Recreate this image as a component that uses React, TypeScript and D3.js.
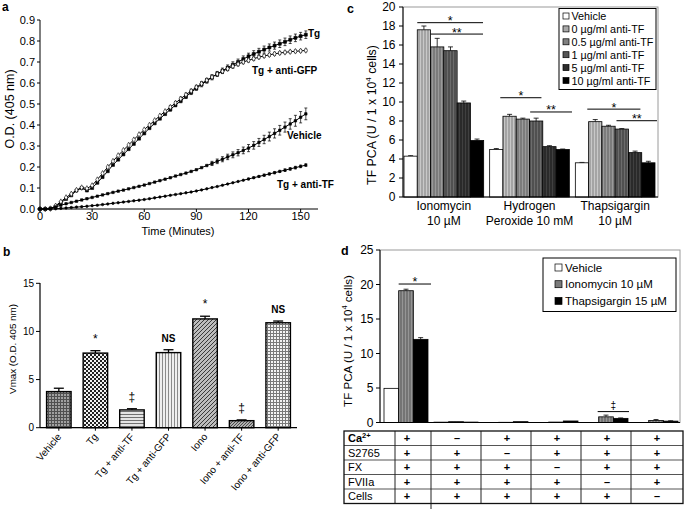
import * as d3 from "d3";

const FONT = "'Liberation Sans', Arial, Helvetica, sans-serif";

// ---------- panel a : time course ----------
const timeMin = [0, 3, 6, 9, 12, 15, 18, 21, 24, 27, 30, 33, 36, 39, 42, 45, 48, 51, 54, 57, 60, 63, 66, 69, 72, 75, 78, 81, 84, 87, 90, 93, 96, 99, 102, 105, 108, 111, 114, 117, 120, 123, 126, 129, 132, 135, 138, 141, 144, 147, 150, 153];
const tgOD = [0, 0, 0.002, 0.012, 0.03, 0.048, 0.065, 0.088, 0.1, 0.088, 0.1, 0.125, 0.152, 0.18, 0.21, 0.235, 0.26, 0.285, 0.31, 0.335, 0.36, 0.385, 0.408, 0.43, 0.452, 0.474, 0.495, 0.515, 0.535, 0.555, 0.575, 0.593, 0.61, 0.627, 0.643, 0.658, 0.673, 0.687, 0.7, 0.714, 0.727, 0.738, 0.749, 0.759, 0.769, 0.778, 0.787, 0.796, 0.806, 0.815, 0.823, 0.83];
const gfpOD = [0, 0, 0.002, 0.015, 0.035, 0.055, 0.072, 0.09, 0.102, 0.098, 0.112, 0.14, 0.17, 0.2, 0.228, 0.255, 0.28, 0.305, 0.33, 0.355, 0.378, 0.4, 0.422, 0.444, 0.465, 0.485, 0.505, 0.525, 0.544, 0.562, 0.58, 0.597, 0.613, 0.628, 0.643, 0.656, 0.668, 0.68, 0.69, 0.7, 0.708, 0.716, 0.723, 0.729, 0.734, 0.739, 0.743, 0.746, 0.749, 0.751, 0.753, 0.755];
const vehicleOD = [0, 0, 0.003, 0.01, 0.018, 0.025, 0.031, 0.037, 0.043, 0.049, 0.055, 0.061, 0.067, 0.073, 0.079, 0.085, 0.09, 0.096, 0.102, 0.108, 0.114, 0.121, 0.128, 0.135, 0.142, 0.149, 0.157, 0.164, 0.171, 0.179, 0.187, 0.197, 0.207, 0.217, 0.227, 0.237, 0.248, 0.258, 0.268, 0.279, 0.29, 0.303, 0.317, 0.331, 0.345, 0.36, 0.375, 0.39, 0.405, 0.42, 0.437, 0.453];
const tfOD = [0, 0, 0, 0.001, 0.003, 0.005, 0.007, 0.009, 0.011, 0.013, 0.016, 0.018, 0.021, 0.024, 0.027, 0.03, 0.033, 0.036, 0.039, 0.042, 0.045, 0.049, 0.053, 0.057, 0.061, 0.065, 0.069, 0.073, 0.077, 0.081, 0.086, 0.091, 0.096, 0.102, 0.107, 0.113, 0.119, 0.125, 0.131, 0.137, 0.143, 0.149, 0.155, 0.161, 0.167, 0.173, 0.179, 0.185, 0.191, 0.197, 0.203, 0.209];
const tgErr = [0, 0, 0, 0, 0, 0, 0, 0, 0, 0, 0, 0, 0, 0, 0, 0, 0, 0, 0, 0, 0, 0, 0, 0, 0, 0.008, 0.008, 0.009, 0.009, 0.01, 0.01, 0.011, 0.011, 0.012, 0.012, 0.013, 0.013, 0.014, 0.014, 0.015, 0.015, 0.016, 0.016, 0.017, 0.017, 0.017, 0.018, 0.018, 0.018, 0.018, 0.018, 0.018];
const gfpErr = [0, 0, 0, 0, 0, 0, 0, 0, 0, 0, 0, 0, 0, 0, 0, 0, 0, 0, 0, 0, 0, 0, 0, 0, 0, 0.007, 0.007, 0.008, 0.008, 0.008, 0.009, 0.009, 0.009, 0.009, 0.009, 0.009, 0.009, 0.009, 0.008, 0.008, 0.008, 0.008, 0.007, 0.007, 0.007, 0.007, 0.006, 0.006, 0.006, 0.006, 0.006, 0.006];
const vehicleErr = [0, 0, 0, 0, 0, 0, 0, 0, 0, 0, 0, 0, 0, 0, 0, 0, 0, 0, 0, 0, 0, 0, 0, 0, 0, 0, 0, 0, 0, 0, 0, 0, 0, 0.01, 0.011, 0.012, 0.013, 0.014, 0.015, 0.016, 0.017, 0.018, 0.019, 0.02, 0.021, 0.022, 0.023, 0.024, 0.025, 0.026, 0.027, 0.028];
const tfErr = [0, 0, 0, 0, 0, 0, 0, 0, 0, 0, 0, 0, 0, 0, 0, 0, 0, 0, 0, 0, 0, 0, 0, 0, 0, 0, 0, 0, 0, 0, 0, 0, 0, 0, 0, 0, 0, 0, 0, 0, 0.004, 0.004, 0.004, 0.005, 0.005, 0.005, 0.005, 0.006, 0.006, 0.006, 0.006, 0.006];
const aSeriesNames = ["Tg", "Tg + anti-GFP", "Vehicle", "Tg + anti-TF"];
const aXTicks = [0, 30, 60, 90, 120, 150];

// ---------- panel b : Vmax ----------
const bCategories = ["Vehicle", "Tg", "Tg + anti-TF", "Tg + anti-GFP", "Iono", "Iono + anti-TF", "Iono + anti-GFP"];
const bVmax = [3.75, 7.75, 1.85, 7.8, 11.3, 0.73, 10.9];
const bErr = [0.35, 0.25, 0.12, 0.3, 0.28, 0.08, 0.18];
const bMarks = ["", "*", "‡", "NS", "*", "‡", "NS"];
const bYTicks = [0, 5, 10, 15];

// ---------- panel c : TF PCA with anti-TF ----------
const cGroups = ["Ionomycin", "Hydrogen", "Thapsigargin"];
const cGroupLine2 = ["10 µM", "Peroxide 10 mM", "10 µM"];
const cSeries = ["Vehicle", "0 µg/ml anti-TF", "0.5 µg/ml anti-TF", "1 µg/ml anti-TF", "5 µg/ml anti-TF", "10 µg/ml anti-TF"];
const cIono = [4.3, 17.6, 15.8, 15.4, 9.9, 5.95];
const cIonoErr = [0.05, 0.4, 0.9, 0.4, 0.2, 0.15];
const cH2O2 = [5.0, 8.5, 8.2, 8.0, 5.3, 5.0];
const cH2O2Err = [0.1, 0.2, 0.1, 0.3, 0.1, 0.05];
const cThaps = [3.6, 7.93, 7.45, 7.15, 4.67, 3.6];
const cThapsErr = [0.04, 0.22, 0.1, 0.05, 0.16, 0.16];
// [group, from bar, to bar, y value, label]
const cSig: [number, number, number, number, string][] = [
  [0, 1.0, 5.95, 18.35, "*"],
  [0, 2.0, 5.95, 17.15, "**"],
  [1, 0.8, 3.9, 10.45, "*"],
  [1, 3.05, 6.2, 8.95, "**"],
  [2, 0.9, 4.9, 9.25, "*"],
  [2, 3.1, 6.15, 8.03, "**"],
];
const cYTicks = [0, 2, 4, 6, 8, 10, 12, 14, 16, 18, 20];

// ---------- panel d : requirements ----------
const dConditions = ["1", "2", "3", "4", "5", "6"];
const dSeries = ["Vehicle", "Ionomycin 10 µM", "Thapsigargin 15 µM"];
const dVehicle = [4.95, 0.05, 0.0, 0.0, 0.0, 0.0];
const dIono = [19.1, 0.12, 0.03, 0.06, 0.82, 0.28];
const dThaps = [12.05, 0.06, 0.12, 0.22, 0.6, 0.2];
const dIonoErr = [0.22, 0, 0, 0, 0.25, 0.15];
const dThapsErr = [0.25, 0, 0, 0, 0.06, 0.05];
const dYTicks = [0, 5, 10, 15, 20, 25];
const tableRows = ["Ca", "S2765", "FX", "FVIIa", "Cells"];
const tableSigns = [
  ["+", "–", "+", "+", "+", "+"],
  ["+", "+", "–", "+", "+", "+"],
  ["+", "+", "+", "–", "+", "+"],
  ["+", "+", "+", "+", "–", "+"],
  ["+", "+", "+", "+", "+", "–"],
];

function PanelA() {
  const x = d3.scaleLinear().domain([0, 160]).range([40, 318]);
  const y = d3.scaleLinear().domain([0, 0.9]).range([209, 20]);
  const line = d3.line<number>().x((_, i) => x(timeMin[i])).y((d) => y(d));
  const series = [
    { v: tgOD, e: tgErr, sym: d3.symbolSquare, size: 9, fill: "#000" },
    { v: gfpOD, e: gfpErr, sym: d3.symbolDiamond, size: 9, fill: "#fff" },
    { v: vehicleOD, e: vehicleErr, sym: d3.symbolSquare, size: 6, fill: "#000" },
    { v: tfOD, e: tfErr, sym: d3.symbolCircle, size: 5, fill: "#000" },
  ];
  const labelPos = [
    { x: 308, y: 37 },
    { x: 252, y: 74 },
    { x: 287, y: 139 },
    { x: 277, y: 188 },
  ];
  return (
    <g>
      <text x={2} y={11} fontSize={12} fontWeight="bold">a</text>
      {series.map((s, si) => (
        <g key={si}>
          <path d={line(s.v) || ""} fill="none" stroke="#000" strokeWidth={1} />
          {s.v.map((v, i) =>
            s.e[i] > 0 ? (
              <g key={"e" + i} stroke="#000" strokeWidth={0.7}>
                <line x1={x(timeMin[i])} x2={x(timeMin[i])} y1={y(v - s.e[i])} y2={y(v + s.e[i])} />
                <line x1={x(timeMin[i]) - 1.5} x2={x(timeMin[i]) + 1.5} y1={y(v + s.e[i])} y2={y(v + s.e[i])} />
                <line x1={x(timeMin[i]) - 1.5} x2={x(timeMin[i]) + 1.5} y1={y(v - s.e[i])} y2={y(v - s.e[i])} />
              </g>
            ) : null
          )}
          {s.v.map((v, i) => (
            <path
              key={"m" + i}
              d={d3.symbol(s.sym, s.size)() || ""}
              transform={`translate(${x(timeMin[i])},${y(v)})`}
              fill={s.fill}
              stroke="#000"
              strokeWidth={0.6}
            />
          ))}
        </g>
      ))}
      {aSeriesNames.map((n, i) => (
        <text key={n} x={labelPos[i].x} y={labelPos[i].y} fontSize={10} fontWeight="bold">{n}</text>
      ))}
      <line x1={40} x2={40} y1={20} y2={209} stroke="#000" />
      <line x1={40} x2={318} y1={209} y2={209} stroke="#000" />
      {y.ticks(9).map((t) => (
        <g key={t}>
          <line x1={37} x2={40} y1={y(t)} y2={y(t)} stroke="#000" />
          <text x={35} y={y(t) + 4} fontSize={11} textAnchor="end">{d3.format(".1f")(t)}</text>
        </g>
      ))}
      {aXTicks.map((t) => (
        <g key={t}>
          <line x1={x(t)} x2={x(t)} y1={209} y2={212} stroke="#000" />
          <text x={x(t)} y={220} fontSize={11} textAnchor="middle">{t}</text>
        </g>
      ))}
      <text x={178} y={235} fontSize={11} textAnchor="middle">Time (Minutes)</text>
      <text transform="translate(14,109) rotate(-90)" fontSize={12.5} textAnchor="middle">O.D. (405 nm)</text>
    </g>
  );
}

const bPatterns = ["pVeh", "pTg", "pTgTF", "pTgGFP", "pIono", "pIonoTF", "pIonoGFP"];

function PanelB() {
  const x = d3.scaleBand<string>().domain(bCategories).range([40, 297]).paddingInner(0.33).paddingOuter(0.18);
  const y = d3.scaleLinear().domain([0, 15]).range([427.7, 283.3]);
  const bw = x.bandwidth();
  return (
    <g>
      <text x={3} y={256} fontSize={12} fontWeight="bold">b</text>
      {bCategories.map((c, i) => {
        const x0 = x(c) as number;
        const cx = x0 + bw / 2;
        const top = y(bVmax[i]);
        const et = y(bVmax[i] + bErr[i]);
        return (
          <g key={c}>
            <line x1={cx} x2={cx} y1={top} y2={et} stroke="#000" strokeWidth={1.3} />
            <line x1={cx - 5} x2={cx + 5} y1={et} y2={et} stroke="#000" strokeWidth={1.3} />
            <rect x={x0} y={top} width={bw} height={y(0) - top} fill={`url(#${bPatterns[i]})`} stroke="#000" strokeWidth={1.4} />
            <text
              x={cx}
              y={et - 8}
              fontSize={bMarks[i] === "NS" ? 10 : 12}
              fontWeight={bMarks[i] === "NS" ? "bold" : "normal"}
              textAnchor="middle"
              fill="#000"
            >
              {bMarks[i]}
            </text>
            <line x1={cx} x2={cx} y1={y(0)} y2={y(0) + 3} stroke="#000" />
            <text transform={`translate(${cx + 3},${437}) rotate(-50)`} fontSize={10} textAnchor="end">{c}</text>
          </g>
        );
      })}
      <line x1={40} x2={40} y1={283} y2={427.7} stroke="#000" strokeWidth={1.2} />
      <line x1={40} x2={297} y1={427.7} y2={427.7} stroke="#000" strokeWidth={1.2} />
      {bYTicks.map((t) => (
        <g key={t}>
          <line x1={36} x2={40} y1={y(t)} y2={y(t)} stroke="#000" />
          <text x={34} y={y(t) + 3.5} fontSize={10} textAnchor="end">{t}</text>
        </g>
      ))}
      <text transform="translate(16,349) rotate(-90)" fontSize={9.8} textAnchor="middle">Vmax (O.D. 405 nm)</text>
    </g>
  );
}

const cFills = ["#ffffff", "url(#cS0)", "url(#cS1)", "url(#cS2)", "url(#cS3)", "#000000"];
const cSwatch = ["#ffffff", "#a8a8a8", "#808080", "#555555", "#2c2c2c", "#000000"];

function PanelC() {
  const x0 = d3.scaleBand<string>().domain(cGroups).range([404, 655]).paddingInner(0.07).paddingOuter(0);
  const x1 = d3.scaleBand<string>().domain(cSeries).range([0, x0.bandwidth()]);
  const y = d3.scaleLinear().domain([0, 20]).range([197, 7]);
  const values = [cIono, cH2O2, cThaps];
  const errs = [cIonoErr, cH2O2Err, cThapsErr];
  const bw = x1.bandwidth();
  return (
    <g>
      <text x={347} y={13} fontSize={12.5} fontWeight="bold">c</text>
      <rect x={403} y={7} width={255} height={190} fill="none" stroke="#9a9a9a" strokeWidth={1} />
      {cGroups.map((g, gi) => (
        <g key={g}>
          {cSeries.map((s, si) => {
            const bx = (x0(g) as number) + (x1(s) as number);
            const v = values[gi][si];
            const e = errs[gi][si];
            const cx = bx + bw / 2;
            return (
              <g key={s}>
                <line x1={cx} x2={cx} y1={y(v)} y2={y(v + e)} stroke="#000" strokeWidth={0.8} />
                <line x1={cx - 2.5} x2={cx + 2.5} y1={y(v + e)} y2={y(v + e)} stroke="#000" strokeWidth={0.8} />
                <rect x={bx} y={y(v)} width={bw} height={y(0) - y(v)} fill={cFills[si]} stroke="#000" strokeWidth={0.8} />
              </g>
            );
          })}
          <text x={(x0(g) as number) + x0.bandwidth() / 2} y={210} fontSize={12} textAnchor="middle">{g}</text>
          <text x={(x0(g) as number) + x0.bandwidth() / 2} y={225} fontSize={12} textAnchor="middle">{cGroupLine2[gi]}</text>
        </g>
      ))}
      {cSig.map(([gi, a, b, v, lab], i) => {
        const gx = x0(cGroups[gi]) as number;
        const xa = gx + a * bw;
        const xb = gx + b * bw;
        return (
          <g key={i}>
            <line x1={xa} x2={xb} y1={y(v)} y2={y(v)} stroke="#000" strokeWidth={1} />
            <text x={(xa + xb) / 2} y={y(v) + 2.5} fontSize={12.5} textAnchor="middle">{lab}</text>
          </g>
        );
      })}
      <line x1={403} x2={403} y1={7} y2={197} stroke="#000" strokeWidth={1} />
      <line x1={403} x2={658} y1={197} y2={197} stroke="#000" strokeWidth={1} />
      {cYTicks.map((t) => (
        <g key={t}>
          <line x1={399} x2={403} y1={y(t)} y2={y(t)} stroke="#000" />
          <text x={395.5} y={y(t) + 4.3} fontSize={12} textAnchor="end">{t}</text>
        </g>
      ))}
      <text transform="translate(376,115) rotate(-90)" fontSize={12.3} textAnchor="middle">
        TF PCA (U / 1 x 10<tspan dy={-5} fontSize={8}>4</tspan><tspan dy={5}> cells)</tspan>
      </text>
      <rect x={559} y={8.5} width={97} height={81} fill="#fff" stroke="#000" strokeWidth={1} />
      {cSeries.map((s, i) => (
        <g key={s} transform={`translate(0,${16 + i * 12.9})`}>
          <rect x={563} y={-3} width={6} height={6} fill={cSwatch[i]} stroke="#000" strokeWidth={0.7} />
          <text x={571.5} y={4} fontSize={10.8}>{s}</text>
        </g>
      ))}
    </g>
  );
}

const dFills = ["#ffffff", "url(#dIono)", "#000000"];
const dSwatch = ["#ffffff", "#7a7a7a", "#000000"];

function PanelD() {
  const x0 = d3.scaleBand<string>().domain(dConditions).range([384, 678]).paddingInner(0.12).paddingOuter(0);
  const x1 = d3.scaleBand<string>().domain(dSeries).range([0, x0.bandwidth()]);
  const y = d3.scaleLinear().domain([0, 25]).range([422.5, 250]);
  const rows = d3.scaleBand<string>().domain(tableRows).range([431, 503.5]);
  const values = [dVehicle, dIono, dThaps];
  const errs = [null, dIonoErr, dThapsErr];
  const bw = x1.bandwidth();
  const gap = (x0.step() - x0.bandwidth()) / 2;
  const colEdges = dConditions.slice(1).map((c) => (x0(c) as number) - gap);
  const sigStar = { a: (x0("1") as number) + bw, b: (x0("1") as number) + x0.bandwidth() + 3, v: 20.07 };
  const sigDag = { a: (x0("5") as number) + bw - 1, b: (x0("5") as number) + x0.bandwidth() + 1, v: 1.58 };
  return (
    <g>
      <text x={341} y={255} fontSize={12.5} fontWeight="bold">d</text>
      <rect x={380} y={250} width={300} height={172.5} fill="none" stroke="#9a9a9a" strokeWidth={1} />
      {dConditions.map((c, ci) => (
        <g key={c}>
          {dSeries.map((s, si) => {
            const bx = (x0(c) as number) + (x1(s) as number);
            const v = values[si][ci];
            const e = errs[si] ? (errs[si] as number[])[ci] : 0;
            const cx = bx + bw / 2;
            return (
              <g key={s}>
                {e > 0 ? (
                  <g stroke="#000" strokeWidth={0.8}>
                    <line x1={cx} x2={cx} y1={y(v)} y2={y(v + e)} />
                    <line x1={cx - 2.5} x2={cx + 2.5} y1={y(v + e)} y2={y(v + e)} />
                  </g>
                ) : null}
                <rect x={bx} y={y(v)} width={bw} height={y(0) - y(v)} fill={dFills[si]} stroke="#000" strokeWidth={0.8} />
              </g>
            );
          })}
        </g>
      ))}
      <line x1={sigStar.a} x2={sigStar.b} y1={y(sigStar.v)} y2={y(sigStar.v)} stroke="#000" />
      <text x={(sigStar.a + sigStar.b) / 2} y={y(sigStar.v) + 1.5} fontSize={12.5} textAnchor="middle">*</text>
      <line x1={sigDag.a} x2={sigDag.b} y1={y(sigDag.v)} y2={y(sigDag.v)} stroke="#000" />
      <text x={(sigDag.a + sigDag.b) / 2} y={y(sigDag.v) - 2.5} fontSize={10} textAnchor="middle" fill="#000">‡</text>
      <line x1={380} x2={380} y1={250} y2={422.5} stroke="#000" />
      <line x1={380} x2={680} y1={422.5} y2={422.5} stroke="#000" />
      {dYTicks.map((t) => (
        <g key={t}>
          <line x1={376} x2={380} y1={y(t)} y2={y(t)} stroke="#000" />
          <text x={373.5} y={y(t) + 4.3} fontSize={12} textAnchor="end">{t}</text>
        </g>
      ))}
      <text transform="translate(352,341) rotate(-90)" fontSize={11.6} textAnchor="middle">
        TF PCA (U / 1 x 10<tspan dy={-5} fontSize={7.5}>4</tspan><tspan dy={5}> cells)</tspan>
      </text>
      <rect x={543} y={258} width={133} height={53.5} fill="#fff" stroke="#000" strokeWidth={1} />
      {dSeries.map((s, i) => (
        <g key={s} transform={`translate(0,${267.5 + i * 16.7})`}>
          <rect x={555} y={-3.5} width={7} height={7} fill={dSwatch[i]} stroke="#000" strokeWidth={0.7} />
          <text x={565} y={4.2} fontSize={11.5}>{s}</text>
        </g>
      ))}
      {/* table */}
      {tableRows.slice(1).map((r) => (
        <line key={r} x1={344} x2={683} y1={rows(r) as number} y2={rows(r) as number} stroke="#555" strokeWidth={1} />
      ))}
      <line x1={395} x2={395} y1={431} y2={503.5} stroke="#222" strokeWidth={1} />
      {colEdges.map((ex, i) => (
        <line key={i} x1={ex} x2={ex} y1={431} y2={i === 0 ? 512 : 503.5} stroke="#222" strokeWidth={1} />
      ))}
      <rect x={344} y={431} width={339} height={72.5} fill="none" stroke="#111" strokeWidth={1.3} />
      {tableRows.map((r, ri) => {
        const cy = (rows(r) as number) + rows.bandwidth() / 2;
        return (
          <g key={r}>
            {r === "Ca" ? (
              <text x={348} y={cy + 4} fontSize={11} fontWeight="bold">
                Ca<tspan dy={-4} fontSize={7.5}>2+</tspan>
              </text>
            ) : (
              <text x={348} y={cy + 4} fontSize={11}>{r}</text>
            )}
            {dConditions.map((c, ci) => (
              <text key={c} x={(x0(c) as number) + x0.bandwidth() / 2 + 1} y={cy + 4} fontSize={11} fontWeight="bold" textAnchor="middle">
                {tableSigns[ri][ci]}
              </text>
            ))}
          </g>
        );
      })}
    </g>
  );
}

function Patterns() {
  const stripe = (id: string, base: string, light: string) => (
    <pattern id={id} width={3} height={3} patternUnits="userSpaceOnUse">
      <rect width={3} height={3} fill={base} />
      <rect x={0} width={1} height={3} fill={light} />
    </pattern>
  );
  return (
    <defs>
      <pattern id="pVeh" width={3} height={3} patternUnits="userSpaceOnUse">
        <rect width={3} height={3} fill="#a0a0a0" />
        <path d="M0 0.5H3M0.5 0V3" stroke="#505050" strokeWidth={1} />
      </pattern>
      <pattern id="pTg" width={4} height={4} patternUnits="userSpaceOnUse">
        <rect width={4} height={4} fill="#f2f2f2" />
        <rect width={2} height={2} fill="#222" />
        <rect x={2} y={2} width={2} height={2} fill="#222" />
      </pattern>
      <pattern id="pTgTF" width={3} height={3} patternUnits="userSpaceOnUse">
        <rect width={3} height={3} fill="#e4e4e4" />
        <path d="M0 0.5H3" stroke="#707070" strokeWidth={1} />
      </pattern>
      <pattern id="pTgGFP" width={3} height={3} patternUnits="userSpaceOnUse">
        <rect width={3} height={3} fill="#eeeeee" />
        <path d="M0.5 0V3" stroke="#8a8a8a" strokeWidth={1} />
      </pattern>
      <pattern id="pIono" width={4} height={4} patternUnits="userSpaceOnUse">
        <rect width={4} height={4} fill="#bdbdbd" />
        <path d="M0 4L4 0M-1 1L1 -1M3 5L5 3" stroke="#3a3a3a" strokeWidth={1} />
      </pattern>
      <pattern id="pIonoTF" width={3} height={3} patternUnits="userSpaceOnUse">
        <rect width={3} height={3} fill="#b0b0b0" />
        <path d="M0 3L3 0M-1 1L1 -1M2 4L4 2" stroke="#404040" strokeWidth={0.9} />
      </pattern>
      <pattern id="pIonoGFP" width={3} height={3} patternUnits="userSpaceOnUse">
        <rect width={3} height={3} fill="#f4f4f4" />
        <path d="M0 0.5H3M0.5 0V3" stroke="#7a7a7a" strokeWidth={1} />
      </pattern>
      {stripe("cS0", "#a4a4a4", "#c8c8c8")}
      {stripe("cS1", "#7c7c7c", "#9a9a9a")}
      {stripe("cS2", "#505050", "#6c6c6c")}
      {stripe("cS3", "#2a2a2a", "#404040")}
      {stripe("dIono", "#747474", "#959595")}
    </defs>
  );
}

export default function App() {
  return (
    <svg
      width={685}
      height={509}
      style={{ position: "fixed", left: 0, top: 0, background: "#fff" }}
      fontFamily={FONT}
    >
      <Patterns />
      <rect width={685} height={509} fill="#fff" />
      <PanelA />
      <PanelB />
      <PanelC />
      <PanelD />
    </svg>
  );
}
